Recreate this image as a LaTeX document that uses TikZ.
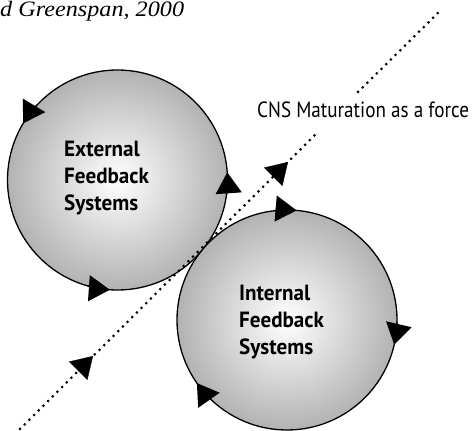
\documentclass[tikz,border=0pt]{standalone}
\usepackage{fontspec}
\newfontfamily\labfont[FakeStretch=0.96]{PT Sans}
\newfontfamily\cnsfont[FakeStretch=0.87]{PT Sans}
\newfontfamily\headfont[FakeStretch=1.1]{Liberation Serif}
\usetikzlibrary{arrows.meta,calc}
\begin{document}
\begin{tikzpicture}[x=1pt,y=1pt,
  ball/.style={draw=black,line width=1.3pt,inner color=white,outer color=black!30},
  lab/.style={font=\labfont\bfseries\fontsize{22}{27}\selectfont,align=left,inner sep=0pt,anchor=base west},
  dotline/.style={line width=3pt,dash pattern=on 0pt off 6.6pt,line cap=round},
  tri/.style={-{Triangle[length=21pt,width=26pt]}},
  circarrow/.style={draw=black,line width=1.3pt,-{Triangle[length=21pt,width=26pt]}}
]
\useasboundingbox (0,0) rectangle (472,431);
\coordinate (c1) at (117.5,251);
\coordinate (c2) at (287,111);
\fill[ball] (c1) circle[radius=110];
\fill[ball] (c2) circle[radius=110];
% dotted line
\coordinate (A) at (20,2);
\coordinate (G1) at (317,298);
\coordinate (G2) at (358,339);
\coordinate (B) at (440,420);
\draw[dotline] (A) -- (G1);
\draw[dotline] (G2) -- (B);
\coordinate (t1) at (93,75);
\coordinate (t2) at (288,269);
\draw[tri] ($(t1)+(-8,-8)$) -- (t1);
\draw[tri] ($(t2)+(-8,-8)$) -- (t2);
% circle arrows
\foreach \a in {149,266,4}
  \draw[circarrow] ($(c1)+(\a-12:110)$) arc[start angle=\a-12,end angle=\a,radius=110];
\foreach \a in {85,-13,215}
  \draw[circarrow] ($(c2)+(\a+12:110)$) arc[start angle=\a+12,end angle=\a,radius=110];
% labels (base anchor = last line)
\node[lab] (ext) at (64,220) {External\\Feedback\\Systems};
\node[lab] (int) at (239,76) {Internal\\Feedback\\Systems};
\node[font=\cnsfont\fontsize{22}{24}\selectfont,inner sep=0pt,anchor=base west] (cns) at (257,313) {CNS Maturation as a force};
\node[font=\headfont\itshape\fontsize{22}{24}\selectfont,inner sep=0pt,anchor=base west] (head) at (0,414) {d Greenspan, 2000};
\end{tikzpicture}
\end{document}
